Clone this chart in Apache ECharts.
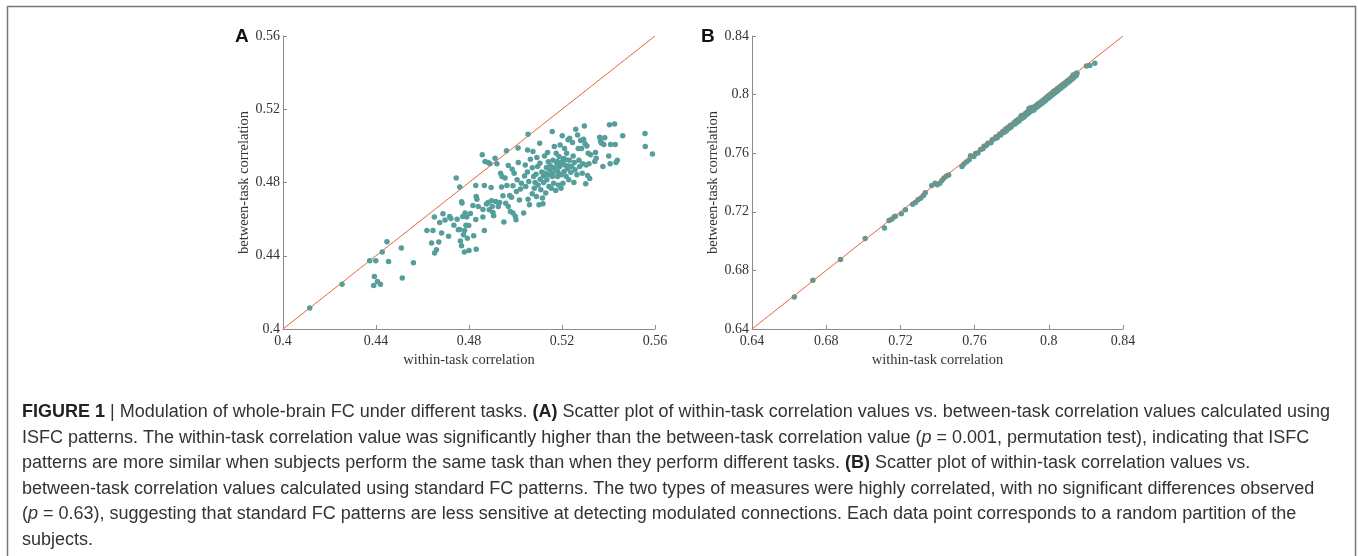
<!DOCTYPE html>
<html>
<head>
<meta charset="utf-8">
<script src="https://cdn.jsdelivr.net/npm/echarts@6/dist/echarts.min.js"></script>
<style>
  html, body { margin: 0; padding: 0; background: #fff; }
  #main { width: 1358px; height: 556px; }
</style>
</head>
<body>
<div id="main"></div>
<script>
// tick values
var ticksA = [0.4, 0.44, 0.48, 0.52, 0.56];
var ticksB = [0.64, 0.68, 0.72, 0.76, 0.8, 0.84];

// panel A: [within-task, between-task] (ISFC)
var pointsA = [
  [0.4115,0.4115],[0.4254,0.4245],[0.4373,0.4373],[0.4399,0.4373],[0.4427,0.4420],[0.4447,0.4476],
  [0.4454,0.4369],[0.4393,0.4287],[0.4390,0.4238],[0.4406,0.4260],[0.4419,0.4245],[0.4509,0.4442],
  [0.4513,0.4278],[0.4561,0.4362],
  [0.4619,0.4538],[0.4645,0.4538],[0.4639,0.4469],[0.4652,0.4415],[0.4660,0.4433],[0.4670,0.4475],
  [0.4682,0.4524],[0.4651,0.4611],[0.4674,0.4582],[0.4688,0.4629],[0.4697,0.4595],[0.4712,0.4507],
  [0.4717,0.4615],[0.4722,0.4604],[0.4735,0.4567],[0.4745,0.4825],[0.4760,0.4776],[0.4749,0.4600],
  [0.4760,0.4544],[0.4763,0.4480],[0.4768,0.4695],[0.4770,0.4688],[0.4768,0.4455],[0.4773,0.4615],
  [0.4776,0.4515],[0.4780,0.4420],[0.4783,0.4633],[0.4787,0.4567],[0.4790,0.4611],[0.4781,0.4538],
  [0.4799,0.4565],[0.4800,0.4429],[0.4806,0.4631],[0.4817,0.4675],[0.4820,0.4509],[0.4829,0.4784],
  [0.4829,0.4598],[0.4831,0.4724],[0.4831,0.4436],[0.4834,0.4709],[0.4840,0.4669],[0.4857,0.4951],
  [0.4860,0.4653],[0.4860,0.4611],[0.4866,0.4784],[0.4866,0.4538],[0.4869,0.4915],[0.4875,0.4682],
  [0.4882,0.4909],[0.4882,0.4691],[0.4887,0.4651],[0.4890,0.4902],[0.4895,0.4773],[0.4897,0.4700],
  [0.4900,0.4669],[0.4903,0.4636],[0.4906,0.4618],[0.4912,0.4933],[0.4915,0.4696],[0.4920,0.4902],
  [0.4926,0.4669],[0.4932,0.4691],[0.4936,0.4851],[0.4940,0.4775],[0.4942,0.4833],[0.4946,0.4727],
  [0.4950,0.4584],[0.4955,0.4824],[0.4958,0.4687],[0.4961,0.4973],[0.4963,0.4784],[0.4969,0.4669],
  [0.4969,0.4893],[0.4975,0.4729],[0.4978,0.4642],[0.4983,0.4720],[0.4986,0.4873],[0.4989,0.4782],
  [0.4989,0.4633],[0.4994,0.4851],[0.4999,0.4616],[0.5002,0.4596],[0.5004,0.4751],[0.5007,0.4815],
  [0.5011,0.4989],[0.5012,0.4909],[0.5017,0.4705],[0.5022,0.4764],[0.5025,0.4796],[0.5035,0.4633],
  [0.5039,0.4836],[0.5042,0.4896],[0.5044,0.4778],[0.5051,0.4858],[0.5052,0.4978],[0.5054,0.5064],
  [0.5054,0.4709],[0.5057,0.4805],[0.5060,0.4678],[0.5064,0.4927],[0.5072,0.4738],[0.5075,0.4969],
  [0.5078,0.4833],[0.5081,0.4769],[0.5084,0.4800],[0.5090,0.4724],[0.5092,0.4936],[0.5095,0.4887],
  [0.5097,0.4787],[0.5101,0.4678],[0.5104,0.5015],[0.5106,0.4818],[0.5109,0.4760],[0.5113,0.4858],
  [0.5116,0.4715],[0.5118,0.4684],[0.5121,0.4800],[0.5125,0.4945],[0.5127,0.4851],[0.5130,0.4742],
  [0.5133,0.4882],[0.5135,0.4815],[0.5138,0.4964],[0.5140,0.4842],[0.5141,0.4913],[0.5144,0.4778],
  [0.5147,0.4869],[0.5150,0.4891],[0.5154,0.4769],[0.5158,0.5078],[0.5158,0.4833],[0.5161,0.4922],
  [0.5164,0.4796],[0.5167,0.4996],[0.5170,0.4876],[0.5173,0.4756],[0.5175,0.4960],[0.5178,0.4905],
  [0.5181,0.4833],[0.5182,0.4860],[0.5185,0.4787],[0.5187,0.4942],[0.5190,0.4887],[0.5192,0.5005],
  [0.5196,0.4769],[0.5197,0.4842],[0.5200,0.4913],[0.5201,0.5055],[0.5204,0.4796],[0.5207,0.4931],
  [0.5209,0.4860],[0.5211,0.4985],[0.5213,0.4896],[0.5218,0.4833],[0.5220,0.4960],[0.5223,0.4875],
  [0.5226,0.5033],[0.5229,0.4815],[0.5232,0.4922],[0.5233,0.5042],[0.5238,0.4856],[0.5242,0.4887],
  [0.5245,0.5018],[0.5248,0.4945],[0.5251,0.4800],[0.5253,0.4909],[0.5256,0.4869],[0.5259,0.5091],
  [0.5264,0.4842],[0.5267,0.5060],[0.5270,0.4985],[0.5273,0.4922],[0.5276,0.4887],[0.5280,0.5029],
  [0.5284,0.4985],[0.5287,0.4851],[0.5290,0.4902],[0.5293,0.5036],[0.5296,0.5109],[0.5299,0.5011],
  [0.5302,0.4793],[0.5304,0.4896],[0.5307,0.5000],[0.5310,0.4838],[0.5313,0.4960],[0.5316,0.4902],
  [0.5319,0.4822],[0.5323,0.4951],[0.5341,0.4915],[0.5344,0.4964],[0.5347,0.4933],[0.5362,0.5047],
  [0.5366,0.5025],[0.5370,0.5015],[0.5376,0.4887],[0.5380,0.5007],[0.5384,0.5044],[0.5401,0.4945],
  [0.5404,0.5115],[0.5407,0.4902],[0.5409,0.5007],[0.5426,0.5120],[0.5429,0.5007],[0.5432,0.4909],
  [0.5438,0.4922],[0.5461,0.5055],[0.5557,0.5067],[0.5558,0.4996],[0.5589,0.4956],
  [0.4754,0.4542],[0.4793,0.4496],[0.5072,0.4880],[0.5105,0.4905],[0.5165,0.4880],[0.5195,0.4900],
  [0.5215,0.4925],[0.5180,0.4915],[0.5230,0.4890],[0.5160,0.4850],[0.5120,0.4835],[0.5088,0.4845]
];

// panel B: [within-task, between-task] (standard FC)
var pointsB = [
  [0.6628,0.6618],[0.6728,0.6732],[0.6877,0.6875],[0.7010,0.7018],[0.7114,0.7089],[0.7139,0.7141],
  [0.7153,0.7150],[0.7166,0.7164],[0.7173,0.7170],[0.7205,0.7186],[0.7227,0.7214],[0.7266,0.7252],
  [0.7281,0.7264],[0.7295,0.7282],[0.7309,0.7293],[0.7324,0.7311],[0.7334,0.7330],[0.7369,0.7380],
  [0.7387,0.7395],[0.7399,0.7384],[0.7413,0.7395],[0.7424,0.7414],[0.7435,0.7430],[0.7449,0.7445],
  [0.7460,0.7452],[0.7532,0.7509],[0.7543,0.7527],[0.7557,0.7541],[0.7571,0.7555],[0.7578,0.7582],
  [0.7596,0.7577],
  [0.7605,0.7598],[0.7618,0.7602],[0.7632,0.7625],[0.7645,0.7631],[0.7651,0.7648],[0.7663,0.7652],
  [0.7672,0.7668],[0.7688,0.7671],[0.7695,0.7692],[0.7708,0.7698],[0.7716,0.7712],[0.7722,0.7705],
  [0.7735,0.7731],[0.7741,0.7725],[0.7752,0.7748],[0.7758,0.7742],[0.7766,0.7763],[0.7771,0.7752],
  [0.7779,0.7776],[0.7785,0.7768],[0.7792,0.7789],[0.7797,0.7778],[0.7803,0.7795],[0.7812,0.7808],
  [0.7818,0.7799],[0.7824,0.7821],[0.7829,0.7811],[0.7836,0.7832],[0.7841,0.7822],[0.7848,0.7846],
  [0.7852,0.7858],[0.7857,0.7839],[0.7863,0.7859],[0.7868,0.7849],[0.7874,0.7871],[0.7879,0.7862],
  [0.7884,0.7882],[0.7889,0.7871],[0.7893,0.7905],[0.7897,0.7889],[0.7902,0.7884],[0.7906,0.7912],
  [0.7911,0.7898],[0.7915,0.7906],[0.7919,0.7894],[0.7924,0.7918],[0.7928,0.7909],[0.7933,0.7926],
  [0.7937,0.7915],[0.7941,0.7935],[0.7946,0.7926],[0.7951,0.7942],[0.7955,0.7933],[0.7959,0.7951],
  [0.7964,0.7941],[0.7968,0.7961],[0.7972,0.7952],[0.7977,0.7969],[0.7981,0.7958],[0.7985,0.7979],
  [0.7989,0.7968],[0.7994,0.7988],[0.7998,0.7977],[0.8003,0.7997],[0.8007,0.7986],[0.8012,0.8006],
  [0.8016,0.7995],[0.8021,0.8016],[0.8025,0.8004],[0.8029,0.8024],[0.8034,0.8013],[0.8038,0.8032],
  [0.8043,0.8022],[0.8047,0.8041],[0.8052,0.8031],[0.8056,0.8049],[0.8061,0.8040],[0.8065,0.8058],
  [0.8069,0.8049],[0.8074,0.8068],[0.8078,0.8057],[0.8083,0.8076],[0.8087,0.8066],[0.8092,0.8085],
  [0.8096,0.8075],[0.8101,0.8094],[0.8105,0.8084],[0.8109,0.8102],[0.8114,0.8093],[0.8118,0.8111],
  [0.8122,0.8103],[0.8127,0.8120],[0.8131,0.8112],[0.8135,0.8130],[0.8139,0.8121],[0.8143,0.8139],
  [0.8148,0.8131],[0.8152,0.8146],[0.8131,0.8134],[0.8149,0.8145],
  [0.8203,0.8195],[0.8221,0.8198],[0.8248,0.8214]
];

var captionLines = [
  '{b|FIGURE 1} | Modulation of whole-brain FC under different tasks. {b|(A)} Scatter plot of within-task correlation values vs. between-task correlation values calculated using',
  'ISFC patterns. The within-task correlation value was significantly higher than the between-task correlation value ({i|p} = 0.001, permutation test), indicating that ISFC',
  'patterns are more similar when subjects perform the same task than when they perform different tasks. {b|(B)} Scatter plot of within-task correlation values vs.',
  'between-task correlation values calculated using standard FC patterns. The two types of measures were highly correlated, with no significant differences observed',
  '({i|p} = 0.63), suggesting that standard FC patterns are less sensitive at detecting modulated connections. Each data point corresponds to a random partition of the',
  'subjects.'
];

var serif = 'Liberation Serif';
var dotColor = '#569e9b';
var lineColor = '#e8643a';

function makeAxis(ticks, idx, name, isY) {
  var ax = {
    type: 'value',
    gridIndex: idx,
    min: ticks[0],
    max: ticks[ticks.length - 1],
    interval: 0.04,
    name: name,
    nameLocation: 'middle',
    nameGap: isY ? 25 : 17,
    nameTextStyle: { fontFamily: serif, fontSize: 14.5, color: '#333' },
    axisLine: { show: true, onZero: false, lineStyle: { color: '#8c8c8c', width: 1 } },
    axisTick: { show: true, inside: true, length: 4, lineStyle: { color: '#8c8c8c' } },
    axisLabel: { fontFamily: serif, fontSize: 14, color: '#333', margin: isY ? 3 : 5 },
    splitLine: { show: false }
  };
  return ax;
}

var chart = echarts.init(document.getElementById('main'));

var graphics = [
  { type: 'rect', shape: { x: 7.5, y: 6.5, width: 1348, height: 600 },
    style: { fill: null, stroke: '#777', lineWidth: 1.5 }, silent: true },
  { type: 'text', left: 235, top: 27, style: { text: 'A', font: 'bold 19px "Liberation Sans"', fill: '#111' } },
  { type: 'text', left: 701, top: 27, style: { text: 'B', font: 'bold 19px "Liberation Sans"', fill: '#111' } }
];
captionLines.forEach(function (line, i) {
  graphics.push({
    type: 'text',
    left: 22,
    top: 403 + i * 25.6,
    style: {
      text: line,
      fontFamily: 'Liberation Sans',
      fontSize: 18,
      fill: '#333',
      rich: {
        b: { fontFamily: 'Liberation Sans', fontSize: 18, fontWeight: 'bold', fill: '#222' },
        i: { fontFamily: 'Liberation Sans', fontSize: 18, fontStyle: 'italic', fill: '#333' }
      }
    }
  });
});

chart.setOption({
  animation: false,
  backgroundColor: '#fff',
  grid: [
    { left: 283, top: 36, width: 372, height: 293, outerBoundsMode: 'none' },
    { left: 752, top: 36, width: 371, height: 293, outerBoundsMode: 'none' }
  ],
  xAxis: [
    makeAxis(ticksA, 0, 'within-task correlation', false),
    makeAxis(ticksB, 1, 'within-task correlation', false)
  ],
  yAxis: [
    makeAxis(ticksA, 0, 'between-task correlation', true),
    makeAxis(ticksB, 1, 'between-task correlation', true)
  ],
  series: [
    {
      type: 'line', xAxisIndex: 0, yAxisIndex: 0, symbol: 'none',
      data: [[ticksA[0], ticksA[0]], [ticksA[4], ticksA[4]]],
      lineStyle: { color: lineColor, width: 1 }, z: 1
    },
    {
      type: 'scatter', xAxisIndex: 0, yAxisIndex: 0, data: pointsA,
      symbolSize: 5.5, itemStyle: { color: dotColor, opacity: 1 }, z: 2
    },
    {
      type: 'scatter', xAxisIndex: 1, yAxisIndex: 1, data: pointsB,
      symbolSize: 5.5, itemStyle: { color: dotColor, opacity: 1 }, z: 2
    },
    {
      type: 'line', xAxisIndex: 1, yAxisIndex: 1, symbol: 'none',
      data: [[ticksB[0], ticksB[0]], [ticksB[5], ticksB[5]]],
      lineStyle: { color: lineColor, width: 1 }, z: 3
    }
  ],
  graphic: graphics
});
</script>
</body>
</html>
